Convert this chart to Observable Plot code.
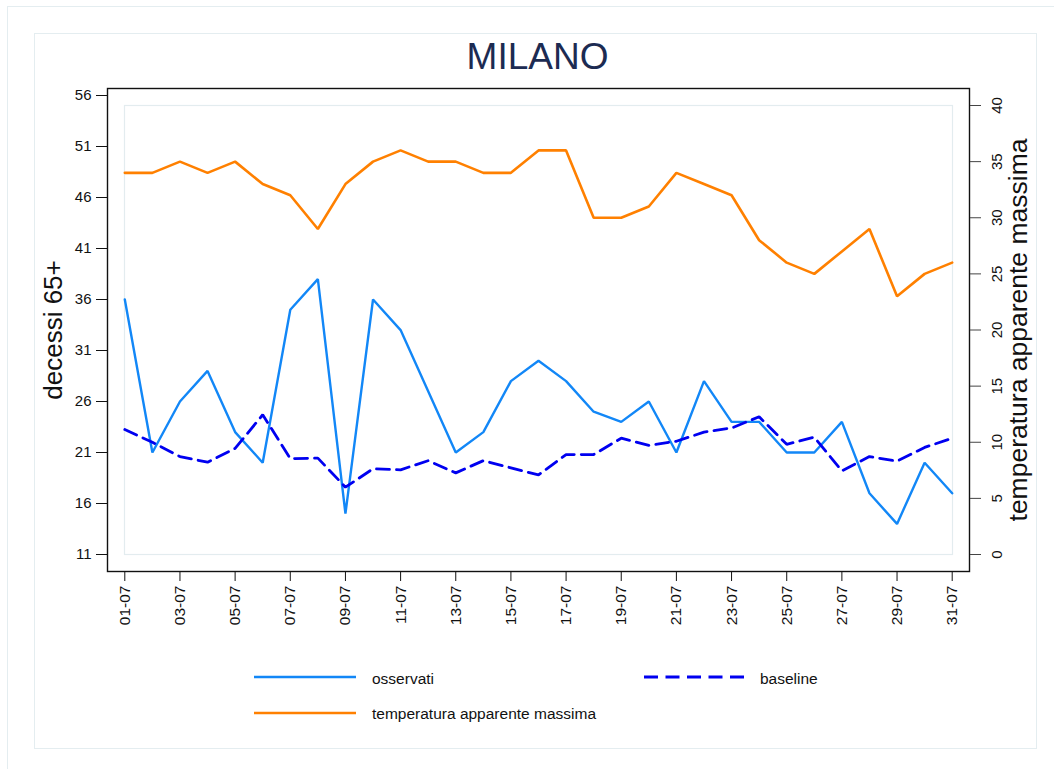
<!DOCTYPE html>
<html>
<head>
<meta charset="utf-8">
<script src="https://cdn.jsdelivr.net/npm/d3@7"></script>
<script src="https://cdn.jsdelivr.net/npm/@observablehq/plot@0.6"></script>
<style>
  html, body { margin: 0; padding: 0; background: #fff; width: 1054px; height: 769px; overflow: hidden;
    font-family: 'Liberation Sans', Arial, Helvetica, sans-serif; }
  #outer { position: absolute; left: 7px; top: 6px; width: 1100px; height: 800px;
    border-left: 1.2px solid #e4edf0; border-top: 1.2px solid #e4edf0; box-sizing: border-box; }
  #inner { position: absolute; left: 34px; top: 33px; width: 1003px; height: 716px;
    border: 1.5px solid #e4edf0; box-sizing: border-box; }
  #title { position: absolute; left: 0; width: 1075px; top: 38px; text-align: center;
    font-size: 37px; line-height: 37px; color: #1c2b52; }
  #chart { position: absolute; left: 0; top: 0; }
  .sw { position: absolute; }
  .lt { position: absolute; font-size: 15.5px; line-height: 20px; color: #111; white-space: nowrap; }
</style>
</head>
<body>
<div id="outer"></div>
<div id="inner"></div>
<div id="title">MILANO</div>
<div id="chart"></div>
<div id="legend"></div>
<script>
// ---- data ----
const days = ["01-07","02-07","03-07","04-07","05-07","06-07","07-07","08-07","09-07","10-07",
              "11-07","12-07","13-07","14-07","15-07","16-07","17-07","18-07","19-07","20-07",
              "21-07","22-07","23-07","24-07","25-07","26-07","27-07","28-07","29-07","30-07","31-07"];
const osservati = [36,21,26,29,23,20,35,38,15,36,33,27,21,23,28,30,28,25,24,26,21,28,24,24,21,21,24,17,14,20,17];
const baseline = [23.25,22.0,20.6,20.05,21.4,24.7,20.4,20.45,17.6,19.4,19.3,20.2,19.0,20.2,19.5,18.8,20.8,
                  20.8,22.4,21.7,22.1,23.0,23.4,24.5,21.8,22.5,19.2,20.6,20.15,21.5,22.4];
const temperatura = [34,34,35,34,35,33,32,29,33,35,36,35,35,34,34,36,36,30,30,31,34,33,32,28,26,25,27,29,23,25,26];
const leftTicks = [11,16,21,26,31,36,41,46,51,56];
const rightTicks = [0,5,10,15,20,25,30,35,40];
const xTicks = days.filter((d, i) => i % 2 === 0);
const seriesNames = ["osservati", "baseline", "temperatura apparente massima"];
const seriesColors = ["#1287f7", "#0000f0", "#ff8000"];

// right axis (0..40) spans the inner plot region; map it onto the left scale units
const t2l = d3.scaleLinear([0, 40], [11, 11 + 449 / (459 / 45)]);
const dayNum = d => days.indexOf(d) + 1;

const rows = days.map((d, i) => ({day: i + 1, oss: osservati[i], base: baseline[i], temp: t2l(temperatura[i])}));

const fontFam = "'Liberation Sans', Arial, Helvetica, sans-serif";

const chart = Plot.plot({
  width: 1054,
  height: 640,
  marginLeft: 107,
  marginRight: 85,
  marginTop: 88,
  marginBottom: 69,
  style: {fontFamily: fontFam, fontSize: "15px", color: "#111", background: "transparent", overflow: "visible"},
  x: {type: "linear", domain: [1, days.length], range: [124.3, 951.7]},
  y: {domain: [11, 56], range: [554, 95]},
  marks: [
    Plot.frame({inset: 17, stroke: "#e3ecef", strokeWidth: 1.2}),
    Plot.frame({stroke: "#111", strokeWidth: 1.4}),
    Plot.axisY({anchor: "left", ticks: leftTicks, tickSize: 11, tickPadding: 5, fontSize: 15, label: null}),
    Plot.axisY({anchor: "right", ticks: rightTicks.map(t2l), tickSize: 11, tickFormat: () => "", label: null, stroke: "#444"}),
    Plot.text(rightTicks, {y: t => t2l(t), text: t => String(t), frameAnchor: "right", textAnchor: "middle",
                           dx: 28, rotate: -90, fontSize: 15}),
    Plot.axisX({ticks: xTicks.map(dayNum), tickFormat: n => days[n - 1], tickRotate: -90, tickSize: 10,
                tickPadding: 4, fontSize: 15.5, label: null}),
    Plot.text(["decessi 65+"], {text: d => d, frameAnchor: "left", textAnchor: "middle", dx: -54, rotate: -90, fontSize: 26}),
    Plot.text(["temperatura apparente massima"], {text: d => d, frameAnchor: "right", textAnchor: "middle",
                                                  dx: 49, rotate: -90, fontSize: 26.5}),
    Plot.line(rows, {x: "day", y: "oss", stroke: seriesColors[0], strokeWidth: 2.4, strokeLinejoin: "miter"}),
    Plot.line(rows, {x: "day", y: "base", stroke: seriesColors[1], strokeWidth: 2.8, strokeDasharray: "13,7", strokeLinejoin: "miter"}),
    Plot.line(rows, {x: "day", y: "temp", stroke: seriesColors[2], strokeWidth: 2.6, strokeLinejoin: "miter"})
  ]
});
document.getElementById("chart").appendChild(chart);

// ---- legend ----
const legend = document.getElementById("legend");
const items = [
  {name: seriesNames[0], color: seriesColors[0], dash: null, lx: 254, ly: 676.7, tx: 372, ty: 668.6},
  {name: seriesNames[1], color: seriesColors[1], dash: "14,7.5", lx: 644, ly: 676.7, tx: 760, ty: 668.6},
  {name: seriesNames[2], color: seriesColors[2], dash: null, lx: 254, ly: 713.3, tx: 372, ty: 704.1}
];
for (const it of items) {
  const ns = "http://www.w3.org/2000/svg";
  const s = document.createElementNS(ns, "svg");
  s.setAttribute("width", 104); s.setAttribute("height", 8);
  s.setAttribute("class", "sw");
  s.style.left = it.lx + "px"; s.style.top = (it.ly - 4) + "px";
  const l = document.createElementNS(ns, "line");
  l.setAttribute("x1", 0); l.setAttribute("x2", 102); l.setAttribute("y1", 4); l.setAttribute("y2", 4);
  l.setAttribute("stroke", it.color); l.setAttribute("stroke-width", it.dash ? 2.8 : 2.4);
  if (it.dash) l.setAttribute("stroke-dasharray", it.dash);
  s.appendChild(l);
  legend.appendChild(s);
  const t = document.createElement("div");
  t.className = "lt"; t.textContent = it.name;
  t.style.left = it.tx + "px"; t.style.top = it.ty + "px";
  legend.appendChild(t);
}
</script>
</body>
</html>
